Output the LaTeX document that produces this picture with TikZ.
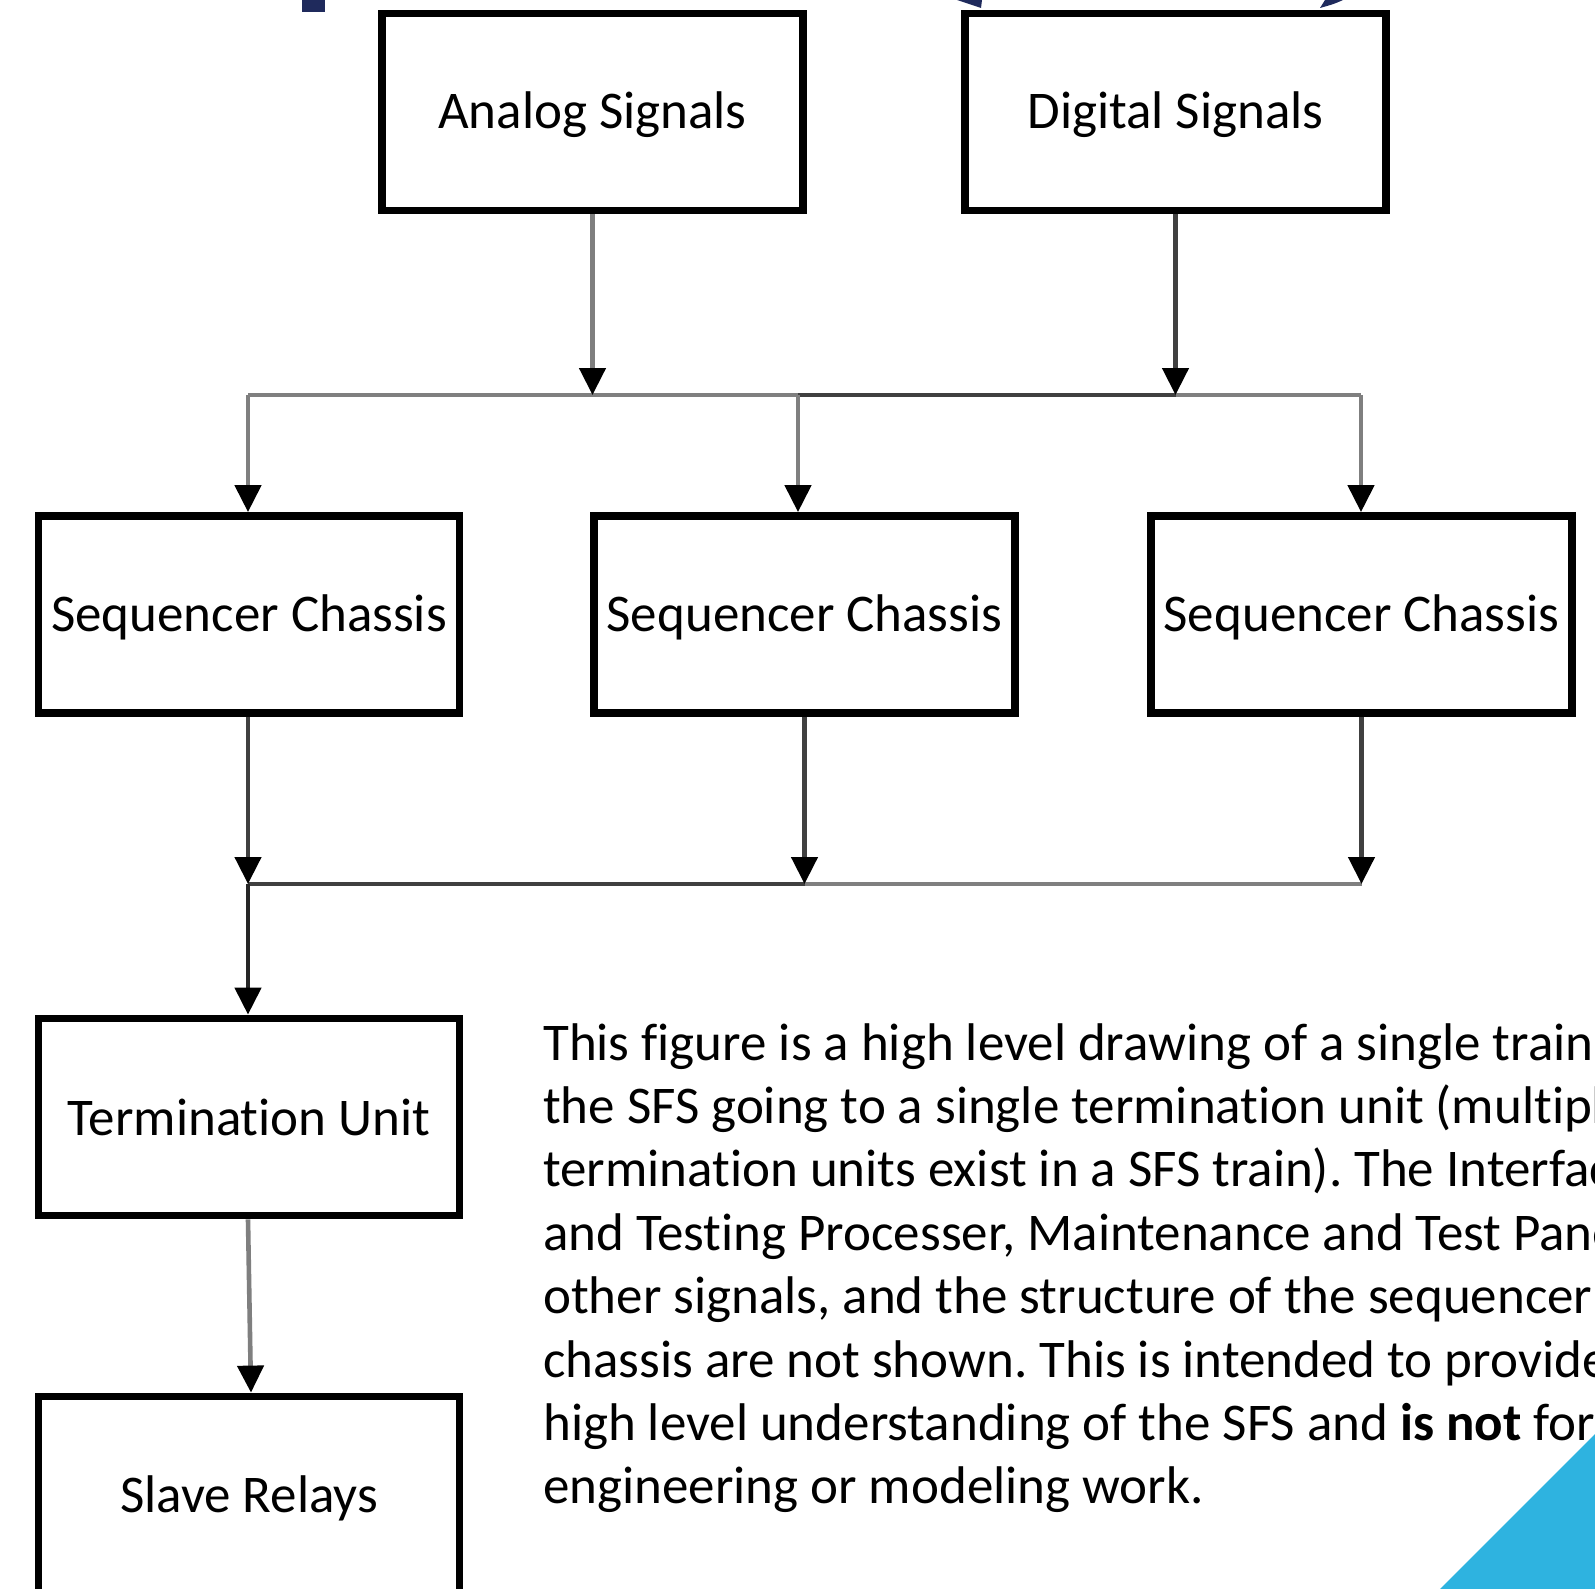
\documentclass[tikz,border=0pt]{standalone}
\usepackage{fontspec}
\setmainfont{Carlito}[Ligatures={NoCommon}]
\usetikzlibrary{arrows.meta}

\definecolor{linegray}{HTML}{7F7F7F}
\definecolor{linedark}{HTML}{404040}
\definecolor{linedeep}{HTML}{262626}
\definecolor{navy}{HTML}{1F2A5C}
\definecolor{skyblue}{HTML}{2EB3E0}

% sets a block label a little below the geometric centre
\newcommand{\blocklabel}[1]{\raisebox{0pt}[\height][\dimexpr\depth-6pt\relax]{#1}}

\tikzset{
  blockbox/.style={draw=black, line width=7.8pt, fill=white,
    minimum width=421pt, minimum height=197pt, inner sep=0pt,
    font=\fontsize{53}{64.5}\selectfont},
  wire/.style={line width=4.6pt, line cap=butt},
  feed/.style={wire, -{Triangle[length=27pt,width=26pt,color=black,fill=black]}},
  bodytext/.style={anchor=base west, inner sep=0pt,
    font=\fontsize{53}{64.5}\selectfont}
}

\begin{document}
\frenchspacing
\begin{tikzpicture}[x=1pt, y=-1pt]
  \useasboundingbox (0,0) rectangle (1595,1589);
  \clip (0,0) rectangle (1595,1589);
  \fill[white] (0,0) rectangle (1595,1589);

  % fragments of the heading above the boxes
  \fill[navy] (302,0) rectangle (325,12);
  \fill[navy] (957,0) -- (982,0) -- (981,8) .. controls (972,5) .. (957,0) -- cycle;
  \fill[navy] (1325,0) -- (1343,0) .. controls (1334,4) .. (1320,8) -- cycle;

  % blocks
  \node[blockbox] (analog)  at (592.5,112)  {\blocklabel{Analog Signals}};
  \node[blockbox] (digital) at (1175.5,112) {\blocklabel{Digital Signals}};
  \node[blockbox] (seqA) at (249,614.5)    {\blocklabel{Sequencer Chassis}};
  \node[blockbox] (seqB) at (804.5,614.5)  {\blocklabel{Sequencer Chassis}};
  \node[blockbox] (seqC) at (1361.5,614.5) {\blocklabel{Sequencer Chassis}};
  \node[blockbox] (term)  at (249,1117)  {\blocklabel{Termination Unit}};
  \node[blockbox] (slave) at (249,1495)  {\blocklabel{Slave Relays}};

  % upper distribution bus
  \coordinate (ubL) at (248,395);
  \coordinate (ubM) at (798,395);
  \coordinate (ubR) at (1361,395);
  \coordinate (ubA) at (analog.south |- ubL);
  \coordinate (ubD) at (digital.south |- ubL);

  \draw[wire, linegray] (ubL) -- (ubM);
  \draw[wire, linegray] (ubD) -- (ubR);
  \draw[wire, linedark] (ubM) -- (ubD);
  \draw[feed, linegray] (analog.south) -- (ubA);
  \draw[feed, linedark] (digital.south) -- (ubD);
  \draw[feed, linegray] (ubL) -- (ubL |- seqA.north);
  \draw[feed, linegray] (ubM) -- (ubM |- seqB.north);
  \draw[feed, linegray] (ubR) -- (ubR |- seqC.north);

  % lower collection bus
  \coordinate (lbL) at (248,884);
  \coordinate (lbM) at (seqB.south |- lbL);
  \coordinate (lbR) at (seqC.south |- lbL);

  \draw[wire, linedark] (lbL) -- (lbM);
  \draw[wire, linegray] (lbM) -- (lbR);
  \draw[feed, linedark] (seqA.south -| lbL) -- (lbL);
  \draw[feed, linedark] (seqB.south) -- (lbM);
  \draw[feed, linedark] (seqC.south) -- (lbR);
  \draw[feed, linedeep] (lbL) -- (lbL |- term.north);
  \draw[feed, linegray] ([xshift=-1pt]term.south) -- ([xshift=2pt]slave.north);

  % description
  \node[bodytext] (l1) at (543,1060.0) {This figure is a high level drawing of a single train of};
  \node[bodytext] (l2) at (543,1123.4) {the SFS going to a single termination unit (multiple};
  \node[bodytext] (l3) at (543,1186.8) {termination units exist in a SFS train). The Interface};
  \node[bodytext] (l4) at (543,1250.2) {and Testing Processer, Maintenance and Test Panel};
  \node[bodytext] (l5) at (543,1313.6) {other signals, and the structure of the sequencer};
  \node[bodytext] (l6) at (543,1377.0) {chassis are not shown. This is intended to provide a};
  \node[bodytext] (l7) at (543,1440.4) {high level understanding of the SFS and \textbf{is not} for};
  \node[bodytext] (l8) at (543,1503.8) {engineering or modeling work.};

  % corner accent, laid over the text
  \fill[skyblue] (1440,1589) -- (1595,1434) -- (1595,1589) -- cycle;
\end{tikzpicture}
\end{document}
